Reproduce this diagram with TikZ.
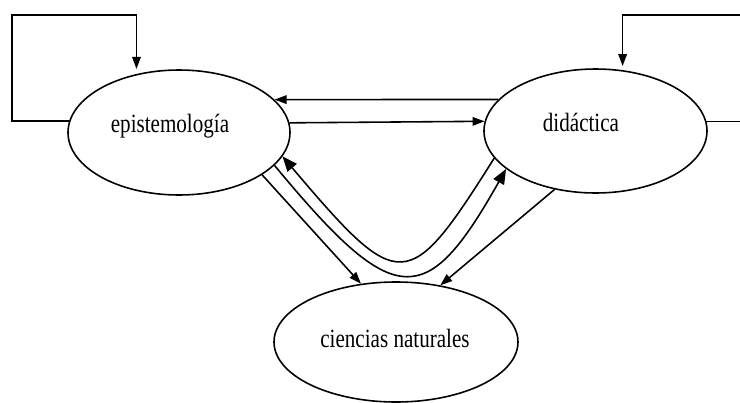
\documentclass[tikz,border=0pt]{standalone}
\usepackage{fontspec}
\setmainfont{Liberation Serif}
\usetikzlibrary{shapes.geometric, arrows.meta}

\newcommand{\tall}[1]{\scalebox{1}[1.25]{#1}}

\begin{document}
\begin{tikzpicture}
        [every node/.style={font=\fontsize{12}{14}\selectfont},
        bubble/.style={ellipse, draw, line width=0.9pt, inner sep=0pt},
        flow/.style={line width=0.9pt, -{Triangle[length=2.4mm,width=1.7mm]}},
        bigflow/.style={line width=0.9pt, -{Triangle[length=3mm,width=2.4mm]}}]

    \useasboundingbox (0,0) rectangle (14.8,8.04);
    \clip (0,0) rectangle (14.8,8.04);

    % the three fields
    \node[bubble, minimum width=4.44cm, minimum height=2.5cm,
          label={[xshift=-1.8mm,yshift=1.2mm]center:\tall{epistemología}}] (epi) at (3.58,5.39) {};
    \node[bubble, minimum width=4.46cm, minimum height=2.48cm,
          label={[xshift=-2.9mm,yshift=1.8mm]center:\tall{didáctica}}] (did) at (11.91,5.42) {};
    \node[bubble, minimum width=4.88cm, minimum height=2.4cm,
          label={[xshift=-0.2mm,yshift=0.8mm]center:\tall{ciencias naturales}}] (cie) at (7.92,1.20) {};

    % self loops
    \coordinate (lt) at (0.24,7.74);
    \coordinate (rt) at (15.2,7.74);
    \draw[flow, shorten >=1mm] (epi.174) -| (lt) -| (epi.126);
    \draw[flow, shorten >=0.8mm] (did.5) -| (rt) -| (did.66);

    \draw[flow] (did.162) -- (epi.19);
    \draw[flow] (epi.5) -- (did.175);

    \draw[flow] (epi.333) -- (cie.121);
    \draw[flow] (did.235) -- (cie.52);

    \draw[bigflow] (did.195) .. controls (8.16,2.14) and (8.00,2.14) .. (epi.347);
    \draw[bigflow] (epi.341) .. controls (7.90,1.82) and (8.52,1.82) .. (did.203);
\end{tikzpicture}
\end{document}
